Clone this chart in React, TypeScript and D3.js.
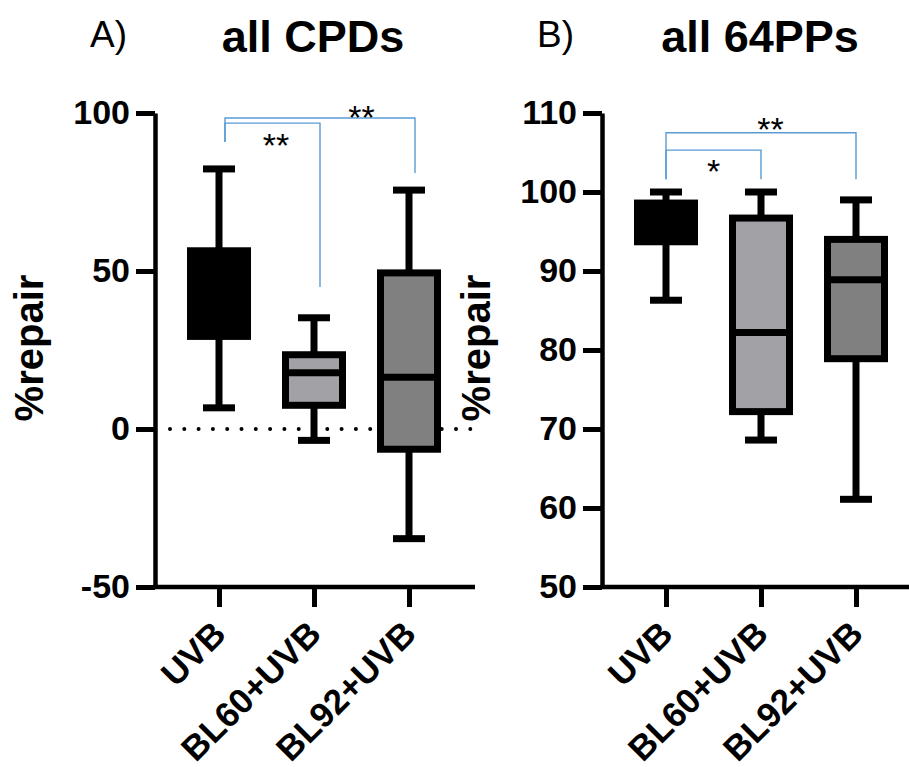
import React, { useEffect, useRef } from 'react';
import * as d3 from 'd3';

// treatment groups (same on both panels)
const groups = ['UVB', 'BL60+UVB', 'BL92+UVB'];
const groupFills = ['#000000', '#a2a1a6', '#808080'];

// A) all CPDs — box stats per group
const cpdMin = [6.7, -3.6, -34.7];
const cpdQ1 = [29.3, 7.5, -6.4];
const cpdMedian = [42, 17.8, 16.4];
const cpdQ3 = [56.4, 23.5, 49.4];
const cpdMax = [82.3, 35.2, 75.6];
const cpdTicks = [-50, 0, 50, 100];

// B) all 64PPs — box stats per group
const ppMin = [86.3, 68.6, 61.1];
const ppQ1 = [93.7, 72.2, 78.9];
const ppMedian = [96, 82.2, 88.9];
const ppQ3 = [98.6, 96.7, 94.0];
const ppMax = [100.0, 100.0, 99.0];
const ppTicks = [50, 60, 70, 80, 90, 100, 110];

// significance brackets: [from group, to group], bar level, leg ends, label pos (index units) & level
const cpdBrackets = [
    { from: 0, to: 1, level: 96.8, leftEnd: 90.8, rightEnd: 44.9, label: '**', labelAt: 0.6, labelLevel: 92.4 },
    { from: 0, to: 2, level: 98.4, leftEnd: 90.8, rightEnd: 81.0, label: '**', labelAt: 1.5, labelLevel: 101.3 },
];
const ppBrackets = [
    { from: 0, to: 1, level: 105.3, leftEnd: 101.6, rightEnd: 101.6, label: '*', labelAt: 0.5, labelLevel: 103.6 },
    { from: 0, to: 2, level: 107.5, leftEnd: 101.6, rightEnd: 101.6, label: '**', labelAt: 1.1, labelLevel: 108.9 },
];

const FONT = '"Liberation Sans", Arial, Helvetica, sans-serif';
const BRACKET_BLUE = '#5b9bd5';

interface PanelConfig {
    left: number;
    letter: string;
    title: string;
    domain: [number, number];
    ticks: number[];
    min: number[]; q1: number[]; median: number[]; q3: number[]; max: number[];
    brackets: typeof cpdBrackets;
    bracketShift: number;
    zeroLine: boolean;
}

function drawPanel(svg: d3.Selection<SVGSVGElement, unknown, null, undefined>, c: PanelConfig) {
    const top = 113, bottom = 587;
    const g = svg.append('g').attr('transform', `translate(${c.left},0)`);

    const y = d3.scaleLinear().domain(c.domain).range([bottom, top]);
    const x = d3.scalePoint<string>().domain(groups).range([64, 254]);
    const xi = (i: number) => 64 + i * (x.step());

    // letter + title
    g.append('text')
        .attr('x', -65).attr('y', 47)
        .style('font-family', FONT).style('font-size', '37px')
        .text(c.letter);
    g.append('text')
        .attr('x', 158).attr('y', 52)
        .attr('text-anchor', 'middle')
        .style('font-family', FONT).style('font-size', '45px').style('font-weight', 'bold')
        .text(c.title);

    // y axis label
    g.append('text')
        .attr('transform', `translate(${-112},${348}) rotate(-90)`)
        .attr('text-anchor', 'middle')
        .style('font-family', FONT).style('font-size', '40px').style('font-weight', 'bold')
        .text('%repair');

    // dotted zero reference
    if (c.zeroLine) {
        g.append('line')
            .attr('x1', 15).attr('x2', 318)
            .attr('y1', y(0)).attr('y2', y(0))
            .attr('stroke', '#000').attr('stroke-width', 4)
            .attr('stroke-linecap', 'round')
            .attr('stroke-dasharray', '0 14.3');
    }

    // Y axis
    const yAxis = g.append('g')
        .call(d3.axisLeft(y).tickValues(c.ticks).tickSize(19).tickSizeOuter(0).tickPadding(6)
            .tickFormat(d => String(d)));
    yAxis.select('.domain').attr('stroke-width', 4.5).attr('stroke', '#000');
    yAxis.selectAll('.tick line').attr('stroke-width', 5).attr('stroke', '#000');
    yAxis.selectAll('.tick text')
        .style('font-family', FONT).style('font-size', '34px').style('font-weight', 'bold')
        .attr('fill', '#000');

    // X axis
    g.append('line')
        .attr('x1', -2).attr('x2', 320)
        .attr('y1', bottom).attr('y2', bottom)
        .attr('stroke', '#000').attr('stroke-width', 4.5);
    const xAxis = g.append('g')
        .attr('transform', `translate(0,${bottom})`)
        .call(d3.axisBottom(x).tickSize(20).tickSizeOuter(0));
    xAxis.select('.domain').remove();
    xAxis.selectAll('.tick line').attr('stroke-width', 5).attr('stroke', '#000');
    xAxis.selectAll('.tick text').remove();
    groups.forEach(name => {
        g.append('text')
            .attr('transform', `translate(${(x(name) || 0) + 9},${636}) rotate(-45)`)
            .attr('text-anchor', 'end')
            .style('font-family', FONT).style('font-size', '35px').style('font-weight', 'bold')
            .text(name);
    });

    // boxes
    const boxW = 57, capW = 32, sw = 7;
    groups.forEach((name, i) => {
        const cx = x(name) || 0;
        const b = g.append('g');
        b.append('line')
            .attr('x1', cx).attr('x2', cx)
            .attr('y1', y(c.max[i])).attr('y2', y(c.min[i]))
            .attr('stroke', '#000').attr('stroke-width', sw);
        [c.max[i], c.min[i]].forEach(v => {
            b.append('line')
                .attr('x1', cx - capW / 2).attr('x2', cx + capW / 2)
                .attr('y1', y(v)).attr('y2', y(v))
                .attr('stroke', '#000').attr('stroke-width', sw);
        });
        b.append('rect')
            .attr('x', cx - boxW / 2).attr('width', boxW)
            .attr('y', y(c.q3[i])).attr('height', y(c.q1[i]) - y(c.q3[i]))
            .attr('fill', groupFills[i]).attr('stroke', '#000').attr('stroke-width', sw);
        b.append('line')
            .attr('x1', cx - boxW / 2).attr('x2', cx + boxW / 2)
            .attr('y1', y(c.median[i])).attr('y2', y(c.median[i]))
            .attr('stroke', '#000').attr('stroke-width', sw);
    });

    // significance brackets
    c.brackets.forEach(br => {
        const x1 = xi(br.from) + c.bracketShift;
        const x2 = xi(br.to) + c.bracketShift;
        const path = d3.path();
        path.moveTo(x1, y(br.leftEnd));
        path.lineTo(x1, y(br.level));
        path.lineTo(x2, y(br.level));
        path.lineTo(x2, y(br.rightEnd));
        g.append('path')
            .attr('d', path.toString())
            .attr('fill', 'none')
            .attr('stroke', BRACKET_BLUE).attr('stroke-width', 1.4);
        g.append('text')
            .attr('x', xi(br.labelAt)).attr('y', y(br.labelLevel))
            .attr('dy', '0.58em')
            .attr('text-anchor', 'middle')
            .style('font-family', FONT).style('font-size', '34px')
            .text(br.label);
    });
}

export default function App() {
    const svgRef = useRef<SVGSVGElement>(null);

    useEffect(() => {
        if (!svgRef.current) return;
        const svg = d3.select(svgRef.current);
        svg.selectAll('*').remove();

        drawPanel(svg, {
            left: 155, letter: 'A)', title: 'all CPDs', domain: [-50, 100], ticks: cpdTicks,
            min: cpdMin, q1: cpdQ1, median: cpdMedian, q3: cpdQ3, max: cpdMax,
            brackets: cpdBrackets, bracketShift: 6, zeroLine: true,
        });
        drawPanel(svg, {
            left: 602, letter: 'B)', title: 'all 64PPs', domain: [50, 110], ticks: ppTicks,
            min: ppMin, q1: ppQ1, median: ppMedian, q3: ppQ3, max: ppMax,
            brackets: ppBrackets, bracketShift: 0, zeroLine: false,
        });
    }, []);

    return (
        <svg
            ref={svgRef}
            width={909}
            height={767}
            style={{ position: 'absolute', left: 0, top: 0, background: '#fff' }}
        />
    );
}
